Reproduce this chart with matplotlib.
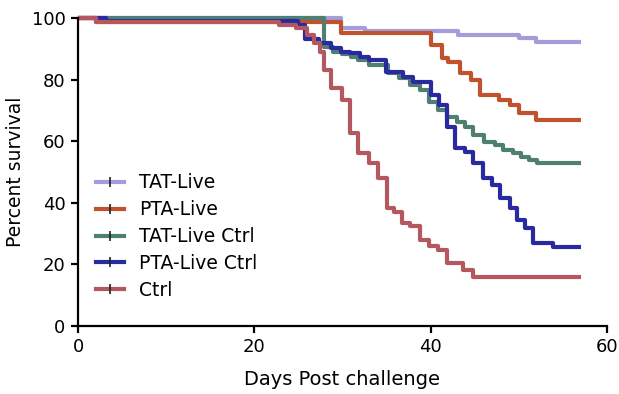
import matplotlib
matplotlib.use("Agg")
import matplotlib.pyplot as plt
from matplotlib.lines import Line2D

# ---- data (day of step, survival % after step) ----
tat_live_days = [0, 29.8, 32.5, 43.1, 50.0, 51.9, 57]
tat_live_vals = [100, 96.8, 95.8, 94.5, 93.5, 92.3, 92.3]

pta_live_days = [0, 2.0, 29.8, 40.0, 41.3, 42.0, 43.3, 44.6, 45.6, 47.8, 49.0, 50.0, 52.0, 57]
pta_live_vals = [100, 98.8, 95.0, 91.2, 87.0, 85.7, 82.0, 80.0, 75.0, 73.4, 71.8, 69.2, 66.9, 66.9]

tat_ctrl_days = [0, 27.9, 28.9, 29.9, 31.0, 31.8, 33.0, 35.2, 36.4, 37.7, 38.8, 39.8, 40.8,
                 41.9, 43.0, 43.9, 44.8, 46.0, 47.3, 48.2, 49.3, 50.2, 51.1, 52.1, 57]
tat_ctrl_vals = [100, 90.5, 89.0, 88.3, 87.3, 86.4, 84.7, 82.1, 80.5, 78.2, 76.6, 72.7, 70.1,
                 67.9, 66.2, 64.6, 62.0, 59.7, 58.8, 57.1, 56.2, 54.9, 53.9, 52.9, 52.9]

pta_ctrl_days = [0, 3.2, 25.0, 25.8, 27.3, 28.7, 29.8, 30.9, 32.0, 33.0, 34.9, 36.9, 38.0,
                 40.0, 40.9, 41.9, 42.8, 43.9, 44.8, 45.9, 47.0, 47.9, 49.0, 49.8, 50.7,
                 51.6, 53.9, 57]
pta_ctrl_vals = [100, 98.9, 97.7, 93.2, 92.0, 90.3, 89.0, 88.6, 87.3, 86.4, 82.5, 80.8, 79.2,
                 75.0, 71.8, 64.6, 57.8, 56.5, 52.9, 48.0, 45.8, 41.6, 38.3, 34.4, 31.8,
                 26.9, 25.6, 25.6]

ctrl_days = [0, 2.0, 22.8, 24.7, 26.0, 26.8, 27.5, 27.9, 28.7, 29.9, 30.9, 31.8, 33.0, 34.0,
             35.0, 35.8, 36.8, 37.7, 38.8, 39.8, 40.8, 41.9, 43.7, 44.8, 57]
ctrl_vals = [100, 98.8, 97.7, 96.6, 94.5, 91.9, 89.0, 83.0, 77.3, 73.5, 62.7, 56.2, 52.9, 48.0,
             38.3, 37.0, 33.4, 32.5, 27.9, 26.0, 24.7, 20.5, 18.2, 15.9, 15.9]

labels = ["TAT-Live", "PTA-Live", "TAT-Live Ctrl", "PTA-Live Ctrl", "Ctrl"]
colors = ["#a39ddb", "#c0532e", "#4f7f72", "#2a2aa0", "#b5575e"]
series = [(tat_live_days, tat_live_vals), (pta_live_days, pta_live_vals),
          (tat_ctrl_days, tat_ctrl_vals), (pta_ctrl_days, pta_ctrl_vals),
          (ctrl_days, ctrl_vals)]

xticks = [0, 20, 40, 60]
yticks = [0, 20, 40, 60, 80, 100]

plt.rcParams['font.family'] = ['DejaVu Sans']

fig = plt.figure(figsize=(6.19, 3.94), dpi=100)
ax = fig.add_axes([78/619, 68/394, (607-78)/619, (326-18)/394])

for (d, v), c in zip(series, colors):
    ax.step(d, v, where='post', color=c, lw=3, clip_on=False, solid_capstyle='butt')

ax.set_xlim(0, 60)
ax.set_ylim(0, 100)
ax.set_xticks(xticks)
ax.set_yticks(yticks)
for s in ['top', 'right']:
    ax.spines[s].set_visible(False)
for s in ['left', 'bottom']:
    ax.spines[s].set_linewidth(1.6)
ax.tick_params(direction='out', length=5, width=1.6, labelsize=13, pad=4)
ax.set_xlabel("Days Post challenge", fontsize=14, labelpad=10)
ax.set_ylabel("Percent survival", fontsize=13.5, labelpad=5)

handles = [Line2D([0], [0], color=c, lw=3, marker='|', markersize=7,
                  markeredgecolor='#222222', markeredgewidth=1.2) for c in colors]
leg = ax.legend(handles, labels, loc='upper left', bbox_to_anchor=(0.02, 0.52),
                frameon=False, fontsize=13.5, handlelength=1.5, handletextpad=0.8,
                labelspacing=0.42, numpoints=1, borderaxespad=0)

fig.savefig("out.png", dpi=100)
